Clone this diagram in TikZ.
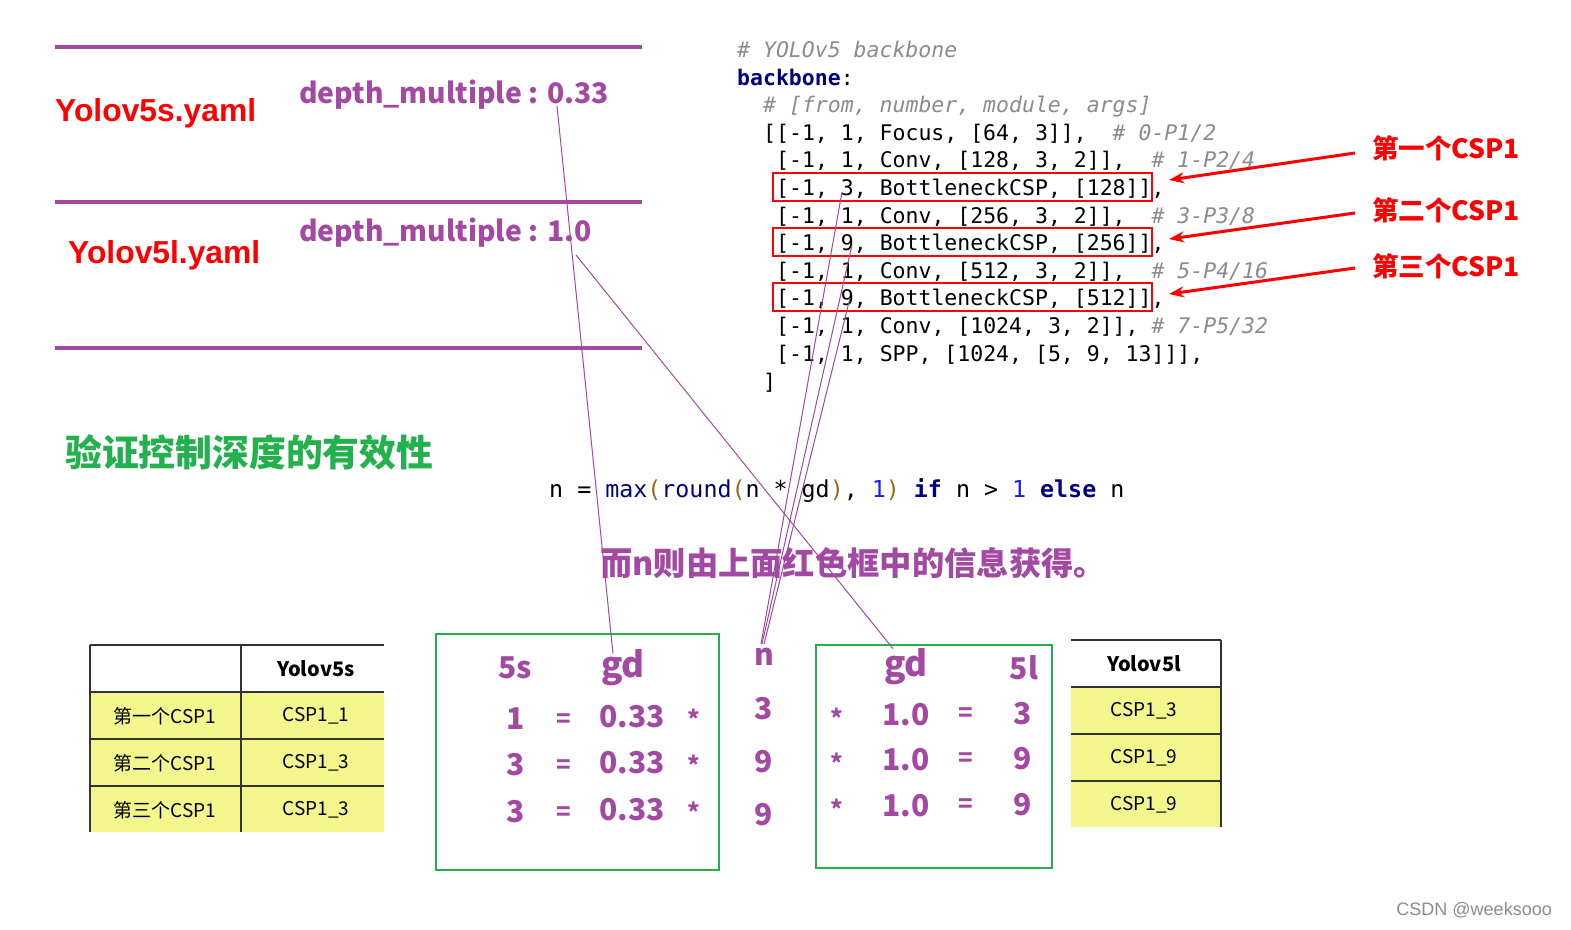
\documentclass[tikz,border=0pt]{standalone}
\usepackage{fontspec}
\setmainfont{Liberation Sans}
\newfontfamily\cjk{Noto Sans CJK SC}
\newfontfamily\codefont{DejaVu Sans Mono}
\usetikzlibrary{arrows.meta,positioning}
\definecolor{yolopurple}{HTML}{A349A4}
\definecolor{yolored}{HTML}{FF0000}
\definecolor{yologreen}{HTML}{22B14C}
\definecolor{cellyellow}{HTML}{F2F68C}
\definecolor{codegray}{HTML}{8C8C8C}
\definecolor{codenavy}{HTML}{000080}
\definecolor{codeblue}{HTML}{2020E0}
\definecolor{codebrown}{HTML}{9A6A1A}
\newcommand\cmt[1]{{\color{codegray}\itshape#1}}
\newcommand\kw[1]{{\color{codenavy}\bfseries#1}}
\newcommand\fn[1]{{\color{codenavy}#1}}
\newcommand\pr[1]{{\color{codebrown}#1}}

\begin{document}
\begin{tikzpicture}[x=1pt,y=-1pt,
  rule/.style={draw=yolopurple,line width=4pt},
  yaml/.style={anchor=west,inner sep=0pt,text=yolored,font=\bfseries\fontsize{31.8}{31.8}\selectfont},
  depth/.style={anchor=west,inner sep=0pt,text=yolopurple,font=\cjk\bfseries\fontsize{28.3}{28.3}\selectfont},
  code/.style={anchor=base west,inner sep=0pt,font=\codefont\fontsize{21.5}{21.5}\selectfont\frenchspacing},
  cspbox/.style={draw=yolored,line width=2pt,minimum width=379pt,minimum height=28pt,inner sep=0pt},
  csplabel/.style={anchor=west,inner sep=0pt,text=yolored,font=\cjk\bfseries\fontsize{26.5}{26.5}\selectfont},
  redarrow/.style={draw=yolored,line width=3pt,-{Stealth[length=15pt,width=11pt]}},
  link/.style={draw=yolopurple,line width=1pt},
  calcbox/.style={draw=yologreen,line width=1.5pt},
  num/.style={inner sep=0pt,text=yolopurple,font=\cjk\bfseries\fontsize{30}{30}\selectfont},
  sym/.style={inner sep=0pt,text=yolopurple,font=\cjk\bfseries\fontsize{24}{24}\selectfont},
  head/.style={inner sep=0pt,text=yolopurple,font=\cjk\bfseries\fontsize{35}{35}\selectfont},
  tabline/.style={draw=black!80,line width=1.5pt},
  cell/.style={inner sep=0pt,font=\cjk\fontsize{19}{19}\selectfont},
  cellhead/.style={inner sep=0pt,font=\cjk\bfseries\fontsize{20}{20}\selectfont}
]
\useasboundingbox[fill=white] (0,0) rectangle (1571,929);

% yaml settings
\draw[rule] (55,47) -- (642,47);
\draw[rule] (55,202) -- (642,202);
\draw[rule] (55,348) -- (642,348);
\node[yaml] (ys) at (55,113) {Yolov5s.yaml};
\node[yaml] (yl) at (68,255) {Yolov5l.yaml};
\node[depth] (ds) at (299,95) {depth\_multiple : 0.33};
\node[depth] (dl) at (299,233) {depth\_multiple : 1.0};

\node[anchor=west,inner sep=0pt,text=yologreen,font=\cjk\bfseries\fontsize{36.8}{36.8}\selectfont] (title) at (65,452) {验证控制深度的有效性};

% backbone code
\node[code] (c0) at (737,57) {\cmt{\# YOLOv5 backbone}};
\node[code] (c1) at (737,85) {\kw{backbone}:};
\node[code] (c2) at (763,112) {\cmt{\# [from, number, module, args]}};
\node[code] (c3) at (763,140) {[[-1, 1, Focus, [64, 3]],\ \ \cmt{\# 0-P1/2}};
\node[code] (c4) at (776,167) {[-1, 1, Conv, [128, 3, 2]],\ \ \cmt{\# 1-P2/4}};
\node[code] (c5) at (776,195) {[-1, 3, BottleneckCSP, [128]],};
\node[code] (c6) at (776,223) {[-1, 1, Conv, [256, 3, 2]],\ \ \cmt{\# 3-P3/8}};
\node[code] (c7) at (776,250) {[-1, 9, BottleneckCSP, [256]],};
\node[code] (c8) at (776,278) {[-1, 1, Conv, [512, 3, 2]],\ \ \cmt{\# 5-P4/16}};
\node[code] (c9) at (776,305) {[-1, 9, BottleneckCSP, [512]],};
\node[code] (c10) at (776,333) {[-1, 1, Conv, [1024, 3, 2]], \cmt{\# 7-P5/32}};
\node[code] (c11) at (776,361) {[-1, 1, SPP, [1024, [5, 9, 13]]],};
\node[code] (c12) at (763,389) {]};

\node[cspbox] (box1) at (962.5,187) {};
\node[cspbox] (box2) at (962.5,242) {};
\node[cspbox] (box3) at (962.5,297) {};
\node[csplabel] (lab1) at (1372,148) {第一个CSP1};
\node[csplabel] (lab2) at (1372,210) {第二个CSP1};
\node[csplabel] (lab3) at (1372,266) {第三个CSP1};
\draw[redarrow] ([xshift=-17pt,yshift=-5pt]lab1.west) -- ([xshift=16pt,yshift=7pt]box1.east);
\draw[redarrow] ([xshift=-17pt,yshift=-3pt]lab2.west) -- ([xshift=16pt,yshift=3pt]box2.east);
\draw[redarrow] ([xshift=-17pt,yshift=-2pt]lab3.west) -- ([xshift=16pt,yshift=3pt]box3.east);

% formula
\node[code,anchor=west] (rule) at (549,491) {\fontsize{23.3}{23.3}\selectfont n = \fn{max}\pr{(}\fn{round}\pr{(}n * gd\pr{)}, {\color{codeblue}1}\pr{)} \kw{if} n > {\color{codeblue}1} \kw{else} n};
\node[anchor=west,inner sep=0pt,text=yolopurple,font=\cjk\bfseries\fontsize{32.3}{32.3}\selectfont] (note) at (600,563) {而n则由上面红色框中的信息获得。};

% left table
\fill[cellyellow] (90,692) rectangle (384,832);
\draw[tabline] (90,645) -- (384,645);
\foreach \y in {692,739,786} \draw[tabline] (90,\y) -- (384,\y);
\draw[tabline] (90,645) -- (90,832);
\draw[tabline] (241,645) -- (241,832);
\node[cellhead] (hs) at (316,669) {Yolov5s};
\foreach \t/\v [count=\i] in {第一个CSP1/CSP1\_1,第二个CSP1/CSP1\_3,第三个CSP1/CSP1\_3} {
  \node[cell] (rs\i) at (165,669+\i*47) {\t};
  \node[cell] (vs\i) at (316,669+\i*47) {\v};
}

% right table
\fill[cellyellow] (1071,687) rectangle (1221,827);
\draw[tabline] (1071,640) -- (1221,640);
\foreach \y in {687,734,781} \draw[tabline] (1071,\y) -- (1221,\y);
\draw[tabline] (1221,640) -- (1221,827);
\node[cellhead] (hl) at (1144,664) {Yolov5l};
\foreach \v [count=\i] in {CSP1\_3,CSP1\_9,CSP1\_9}
  \node[cell] (vl\i) at (1144,664+\i*47) {\v};

% 5s calculation
\draw[calcbox] (436,634) rectangle (719,870);
\node[num] (s5) at (515,668) {5s};
\node[head] (gds) at (623,668) {gd};
\foreach \v [count=\i] in {1,3,3} {
  \node[num] (sv\i) at (516,672+\i*46.5) {\v};
  \node[sym] (se\i) at (564,674+\i*46.5) {=};
  \node[num] (sg\i) at (632,670+\i*46.5) {0.33};
  \node[sym] (sm\i) at (694,672+\i*46.5) {*};
}

% n column
\node[num] (nhead) at (764,657) {n};
\foreach \v [count=\i] in {3,9,9}
  \node[num] (nv\i) at (764,656+\i*53) {\v};

% 5l calculation
\draw[calcbox] (816,645) rectangle (1052,868);
\node[head] (gdl) at (906,667) {gd};
\node[num] (l5) at (1024,668) {5l};
\foreach \v [count=\i] in {3,9,9} {
  \node[sym] (lm\i) at (837,672+\i*45.5) {*};
  \node[num] (lg\i) at (906,669+\i*45.5) {1.0};
  \node[sym] (le\i) at (966,669+\i*45.5) {=};
  \node[num] (lv\i) at (1023,668+\i*45.5) {\v};
}

% links
\coordinate (p033) at (557,106);
\coordinate (p10) at (576,255);
\coordinate (pn1) at (842,192);
\coordinate (pn2) at (852,245);
\coordinate (pn3) at (850,298);
\draw[link] (p033) -- ([xshift=-10pt,yshift=-4pt]gds.north);
\draw[link] (p10) -- ([xshift=-13pt]gdl.north);
\draw[link] (pn1) -- ([xshift=-3pt,yshift=4pt]nhead.north);
\draw[link] (pn2) -- ([xshift=-2pt,yshift=4pt]nhead.north);
\draw[link] (pn3) -- ([xshift=0pt,yshift=4pt]nhead.north);

\node[anchor=east,inner sep=0pt,text=black!45,font=\fontsize{18}{18}\selectfont] (mark) at (1552,910) {CSDN @weeksooo};
\end{tikzpicture}
\end{document}
